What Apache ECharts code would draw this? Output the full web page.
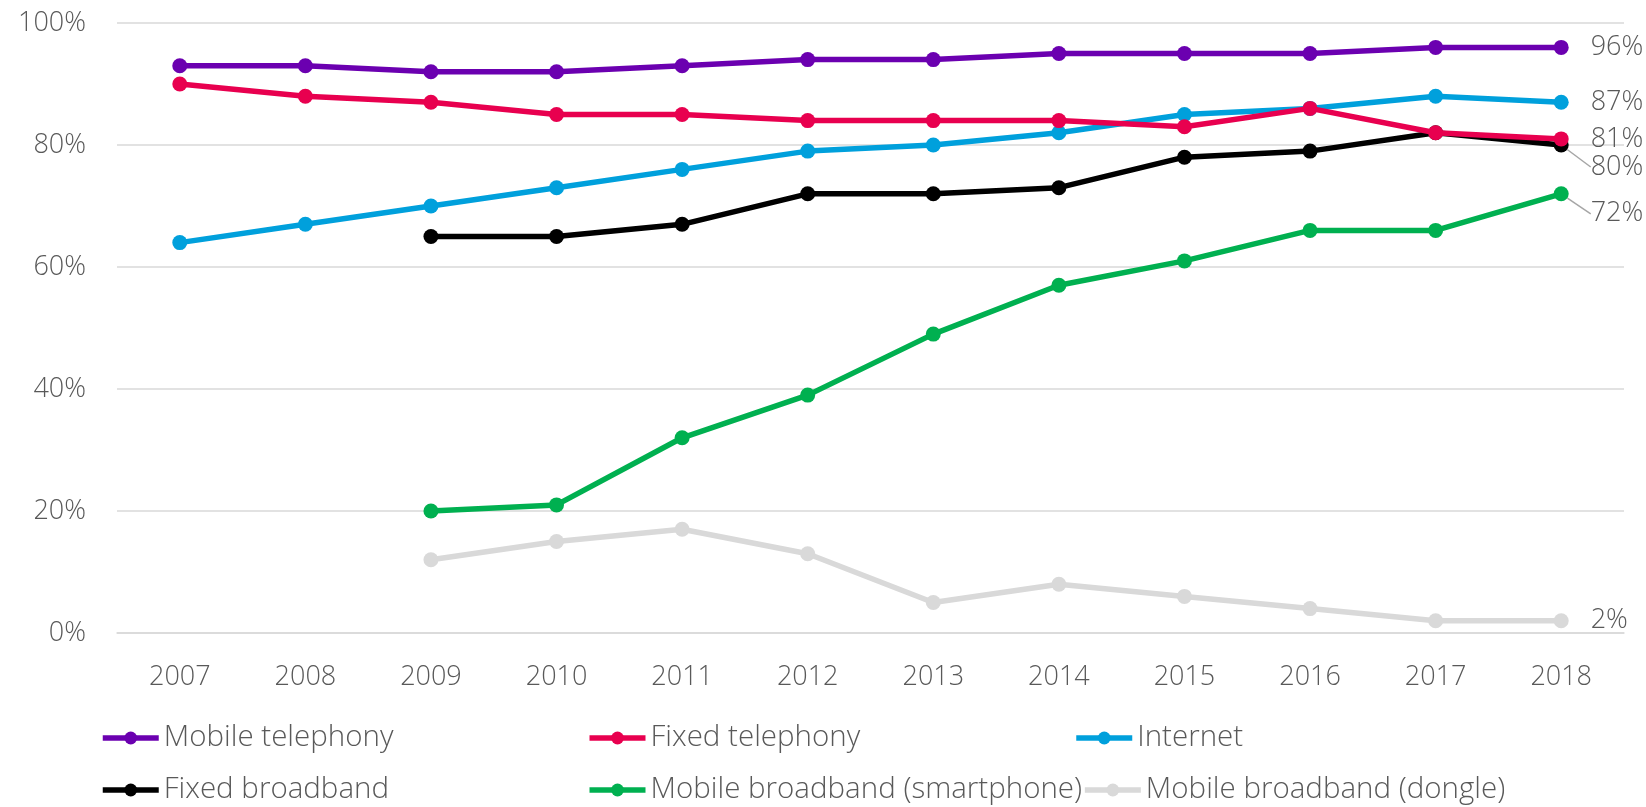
<!DOCTYPE html>
<html><head><meta charset="utf-8">
<script src="https://cdn.jsdelivr.net/npm/echarts@6/dist/echarts.min.js"></script>
<style>html,body{margin:0;padding:0;background:#fff}#c{width:1646px;height:807px}</style>
</head><body><div id="c"></div>
<script>
const years = ['2007','2008','2009','2010','2011','2012','2013','2014','2015','2016','2017','2018'];
const mobileTelephony = [93,93,92,92,93,94,94,95,95,95,96,96];
const fixedTelephony = [90,88,87,85,85,84,84,84,83,86,82,81];
const internet = [64,67,70,73,76,79,80,82,85,86,88,87];
const fixedBroadband = [null,null,65,65,67,72,72,73,78,79,82,80];
const mobileSmartphone = [null,null,20,21,32,39,49,57,61,66,66,72];
const mobileDongle = [null,null,12,15,17,13,5,8,6,4,2,2];
const names = ['Mobile telephony','Fixed telephony','Internet','Fixed broadband','Mobile broadband (smartphone)','Mobile broadband (dongle)'];
const colors = ['#6B00B0','#E8004F','#00A0DC','#000000','#00B050','#D9D9D9'];
const yTicks = [0,20,40,60,80,100];

const FONT = '"Open Sans", sans-serif';
const TXT = '#595959';
const chart = echarts.init(document.getElementById('c'));

function mk(i, data, shift){
  const last = data.length - 1;
  return {
    name: names[i], type: 'line', data: data.map((v, k) => k === last ? {
      value: v,
      label: {show: true, position: 'right', distance: 22, formatter: '{c}%',
              color: TXT, fontFamily: FONT, fontWeight: 300, fontSize: 27},
      labelLine: shift ? {show: true, lineStyle: {color: '#A6A6A6', width: 1.5}} : undefined
    } : v),
    color: colors[i], symbol: 'circle', symbolSize: 15,
    lineStyle: {width: 5.5, color: colors[i]}, itemStyle: {color: colors[i]},
    connectNulls: false, z: 10 - i,
    labelLayout: shift ? {dy: shift} : undefined,
    emphasis: {disabled: true}
  };
}

const legendBase = {
  orient: 'horizontal', itemWidth: 56, itemHeight: 16, itemGap: 0, padding: 0,
  lineStyle: {width: 5.5},
  textStyle: {color: TXT, fontFamily: FONT, fontWeight: 300, fontSize: 29.5, width: 423, lineHeight: 32},
  selectedMode: false
};

chart.setOption({
  animation: false,
  backgroundColor: '#fff',
  grid: {left: 117, right: 22, top: 23, bottom: 174, containLabel: false},
  legend: [
    Object.assign({}, legendBase, {left: 100, top: 722, data: names.slice(0,3)}),
    Object.assign({}, legendBase, {left: 100, top: 774, data: names.slice(3,6)})
  ],
  xAxis: {type: 'category', data: years, boundaryGap: true,
    axisLine: {lineStyle: {color: '#D9D9D9', width: 1.5}}, axisTick: {show: false},
    axisLabel: {color: TXT, fontFamily: FONT, fontWeight: 300, fontSize: 27, margin: 31}},
  yAxis: {type: 'value', min: yTicks[0], max: yTicks[yTicks.length-1], interval: 20,
    axisLine: {show: false}, axisTick: {show: false},
    splitLine: {lineStyle: {color: '#D9D9D9', width: 1.5}},
    axisLabel: {color: TXT, fontFamily: FONT, fontWeight: 300, fontSize: 27, margin: 31, formatter: '{value}%'}},
  series: [
    mk(0, mobileTelephony), mk(1, fixedTelephony), mk(2, internet),
    mk(3, fixedBroadband, 22), mk(4, mobileSmartphone, 20), mk(5, mobileDongle)
  ]
});
</script></body></html>
